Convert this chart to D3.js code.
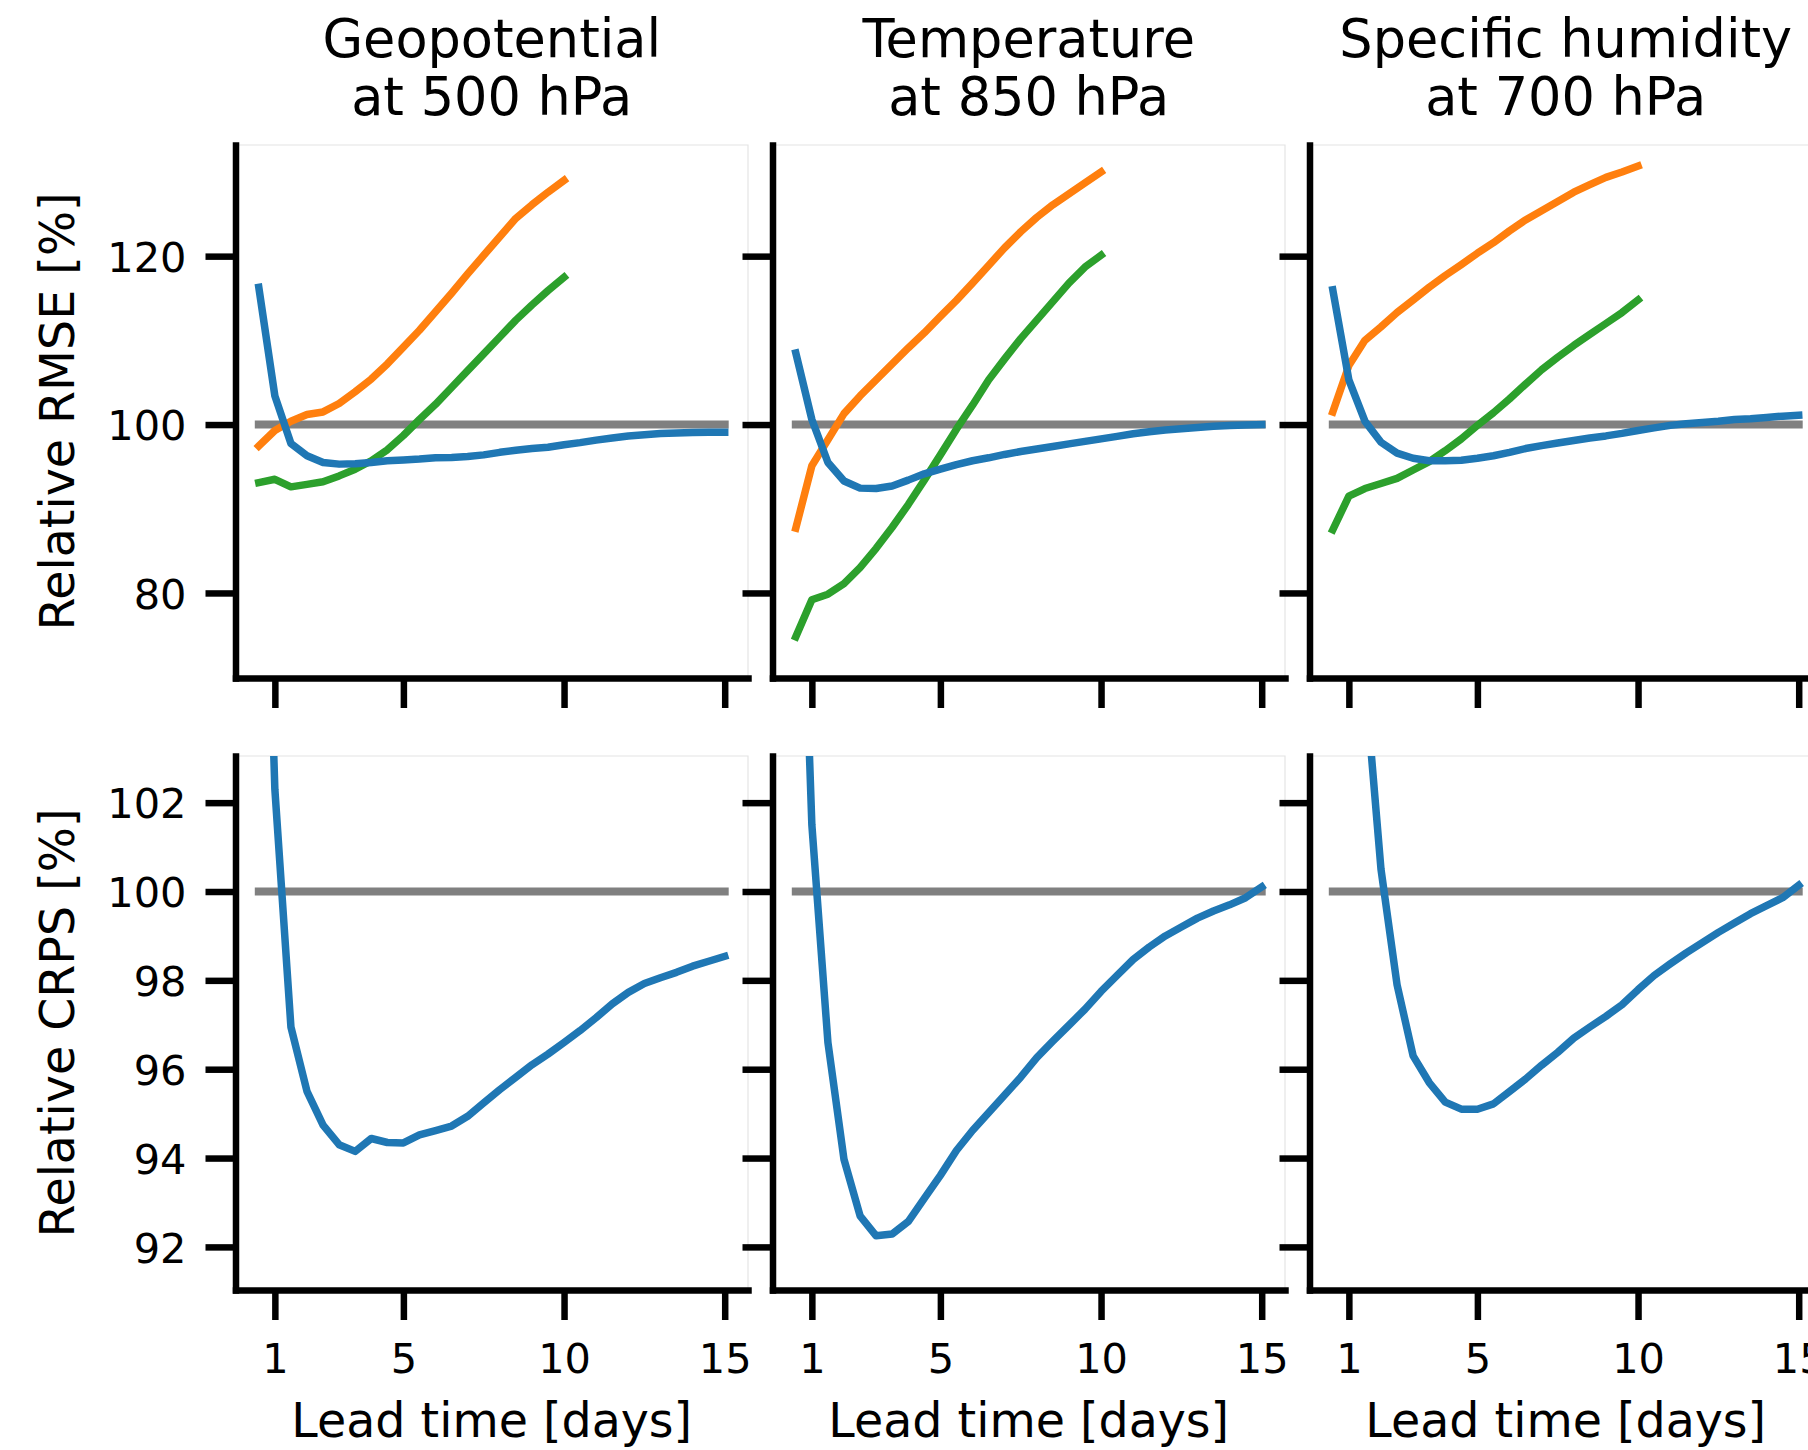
<!DOCTYPE html>
<html>
<head>
<meta charset="utf-8">
<script src="https://cdn.jsdelivr.net/npm/d3@7"></script>
<style>
  body { margin: 0; background: #fff; }
  text { font-family: "DejaVu Sans", sans-serif; fill: #000; }
</style>
</head>
<body>
<svg id="fig" width="1808" height="1450"></svg>
<script>
// lead times (days)
const leadDays = [0.5, 1, 1.5, 2, 2.5, 3, 3.5, 4, 4.5, 5, 5.5, 6, 6.5, 7, 7.5, 8, 8.5, 9, 9.5, 10,
                  10.5, 11, 11.5, 12, 12.5, 13, 13.5, 14, 14.5, 15];
const leadDaysShort = [0.5, 1, 1.5, 2, 2.5, 3, 3.5, 4, 4.5, 5, 5.5, 6, 6.5, 7, 7.5, 8, 8.5, 9, 9.5, 10];

const titles = [["Geopotential", "at 500 hPa"], ["Temperature", "at 850 hPa"], ["Specific humidity", "at 700 hPa"]];
const xTicks = [1, 5, 10, 15];
const rmseTicks = [80, 100, 120];
const crpsTicks = [92, 94, 96, 98, 100, 102];

// relative RMSE [%]
const rmseZ500Blue = [116.3, 103.4, 97.75, 96.3, 95.5, 95.3, 95.35, 95.5, 95.7, 95.8, 95.9, 96.05, 96.1, 96.2, 96.4,
  96.7, 96.95, 97.15, 97.3, 97.6, 97.85, 98.15, 98.4, 98.65, 98.8, 98.95, 99.0, 99.07, 99.1, 99.1];
const rmseZ500Orange = [97.45, 99.3, 100.4, 101.2, 101.5, 102.5, 103.9, 105.4, 107.2, 109.2, 111.2, 113.4, 115.6,
  117.9, 120.1, 122.3, 124.5, 126.1, 127.6, 129.0];
const rmseZ500Green = [93.1, 93.5, 92.6, 92.9, 93.2, 93.9, 94.7, 95.7, 97.0, 98.7, 100.6, 102.4, 104.4, 106.4,
  108.4, 110.4, 112.4, 114.2, 115.9, 117.5];

const rmseT850Blue = [108.5, 100.6, 95.5, 93.3, 92.45, 92.4, 92.7, 93.4, 94.15, 94.7, 95.25, 95.7, 96.05, 96.45, 96.8,
  97.1, 97.4, 97.7, 98.0, 98.3, 98.6, 98.9, 99.15, 99.35, 99.5, 99.65, 99.8, 99.9, 99.95, 100.0];
const rmseT850Orange = [87.7, 95.1, 98.2, 101.3, 103.4, 105.3, 107.2, 109.1, 110.9, 112.85, 114.75, 116.8, 118.9,
  121.0, 122.9, 124.6, 126.1, 127.4, 128.7, 130.0];
const rmseT850Green = [74.8, 79.2, 79.85, 81.1, 83.0, 85.3, 87.8, 90.5, 93.4, 96.4, 99.45, 102.3, 105.3, 107.8,
  110.2, 112.4, 114.6, 116.8, 118.7, 120.1];

const rmseQ700Blue = [116.0, 105.3, 100.4, 97.9, 96.6, 96.0, 95.7, 95.7, 95.75, 96.0, 96.3, 96.7, 97.15, 97.5, 97.8,
  98.1, 98.4, 98.65, 98.95, 99.3, 99.6, 99.9, 100.1, 100.25, 100.4, 100.6, 100.7, 100.85, 101.0, 101.1];
const rmseQ700Orange = [101.5, 107.0, 110.0, 111.6, 113.3, 114.8, 116.3, 117.7, 119.0, 120.35, 121.6, 123.0, 124.3,
  125.4, 126.5, 127.6, 128.5, 129.35, 130.0, 130.7];
const rmseQ700Green = [87.5, 91.5, 92.4, 93.0, 93.6, 94.6, 95.6, 96.9, 98.3, 99.9, 101.4, 103.05, 104.8, 106.5,
  108.0, 109.4, 110.7, 112.0, 113.3, 114.8];

// relative CRPS [%]
const crpsZ500Blue = [113.7, 102.3, 96.95, 95.5, 94.74, 94.3, 94.15, 94.44, 94.35, 94.34, 94.52, 94.62, 94.72, 94.94,
  95.24, 95.54, 95.82, 96.1, 96.34, 96.6, 96.87, 97.16, 97.47, 97.73, 97.93, 98.06, 98.18, 98.32, 98.43, 98.54];
const crpsT850Blue = [112.0, 101.5, 96.6, 93.97, 92.7, 92.25, 92.29, 92.57, 93.09, 93.61, 94.17, 94.62, 95.02, 95.42,
  95.82, 96.26, 96.63, 96.99, 97.35, 97.75, 98.11, 98.47, 98.75, 99.0, 99.2, 99.4, 99.56, 99.7, 99.86, 100.1];
const crpsQ700Blue = [125.0, 115.0, 104.8, 100.5, 97.9, 96.3, 95.7, 95.26, 95.1, 95.1, 95.22, 95.5, 95.78, 96.09,
  96.38, 96.7, 96.95, 97.19, 97.45, 97.79, 98.11, 98.37, 98.62, 98.85, 99.08, 99.29, 99.5, 99.68, 99.86, 100.14];

const colors = { blue: "#1f77b4", orange: "#ff7f0e", green: "#2ca02c", ref: "#808080" };

const svg = d3.select("#fig");

const panelX = [235.5, 772.5, 1309.5];
const panelW = 512.5;

const rows = [
  { top: 145, bottom: 678, domain: [69.9, 133.2], ticks: rmseTicks, label: "Relative RMSE [%]",
    series: [
      [rmseZ500Orange, rmseZ500Green, rmseZ500Blue],
      [rmseT850Orange, rmseT850Green, rmseT850Blue],
      [rmseQ700Orange, rmseQ700Green, rmseQ700Blue]
    ] },
  { top: 756, bottom: 1290, domain: [91.03, 103.05], ticks: crpsTicks, label: "Relative CRPS [%]",
    series: [
      [null, null, crpsZ500Blue],
      [null, null, crpsT850Blue],
      [null, null, crpsQ700Blue]
    ] }
];

const tickFont = 41.5;
const labelFont = 47.5;

rows.forEach(function (row, r) {
  const y = d3.scaleLinear().domain(row.domain).range([row.bottom, row.top]);

  panelX.forEach(function (x0, c) {
    const x = d3.scaleLinear().domain([-0.225, 15.725]).range([x0, x0 + panelW]);
    const g = svg.append("g");
    const clipId = "clip-" + r + "-" + c;

    g.append("clipPath").attr("id", clipId)
      .append("rect")
      .attr("x", x0).attr("y", row.top)
      .attr("width", panelW).attr("height", row.bottom - row.top);

    // faint frame on top / right
    g.append("path")
      .attr("d", "M" + x0 + "," + row.top + "H" + (x0 + panelW) + "V" + row.bottom)
      .attr("fill", "none").attr("stroke", "#e4e4e4").attr("stroke-width", 1.2);

    const plot = g.append("g").attr("clip-path", "url(#" + clipId + ")");

    // reference line at 100 %
    plot.append("path")
      .datum([leadDays[0], leadDays[leadDays.length - 1]])
      .attr("d", d3.line().x(function (d) { return x(d); }).y(function () { return y(100); }))
      .attr("fill", "none").attr("stroke", colors.ref).attr("stroke-width", 8)
      .attr("stroke-linecap", "square");

    const set = row.series[c];
    const line = d3.line()
      .x(function (d) { return x(d[0]); })
      .y(function (d) { return y(d[1]); });

    [[set[0], leadDaysShort, colors.orange], [set[1], leadDaysShort, colors.green], [set[2], leadDays, colors.blue]]
      .forEach(function (s) {
        if (!s[0]) return;
        plot.append("path")
          .datum(d3.zip(s[1], s[0]))
          .attr("d", line)
          .attr("fill", "none")
          .attr("stroke", s[2])
          .attr("stroke-width", 7.5)
          .attr("stroke-linecap", "square")
          .attr("stroke-linejoin", "round");
      });

    // axes
    const yAxis = g.append("g")
      .attr("transform", "translate(" + x0 + ",0)")
      .call(d3.axisLeft(y).tickValues(row.ticks).tickSize(30).tickSizeOuter(0).tickPadding(19));
    const xAxis = g.append("g")
      .attr("transform", "translate(0," + row.bottom + ")")
      .call(d3.axisBottom(x).tickValues(xTicks).tickSize(30).tickSizeOuter(0).tickPadding(24));

    [yAxis, xAxis].forEach(function (ax) {
      ax.attr("font-size", tickFont).attr("font-family", "DejaVu Sans, sans-serif");
      ax.select(".domain").attr("stroke", "#000").attr("stroke-width", 6.5).attr("stroke-linecap", "square");
      ax.selectAll(".tick line").attr("stroke", "#000").attr("stroke-width", 6.5);
      ax.selectAll(".tick text").attr("fill", "#000");
    });
    yAxis.selectAll(".tick text").attr("dy", "0.365em");

    if (c > 0) yAxis.selectAll(".tick text").remove();
    if (r === 0) xAxis.selectAll(".tick text").remove();

    // titles
    if (r === 0) {
      const t = g.append("text")
        .attr("text-anchor", "middle")
        .attr("font-size", 52.5);
      titles[c].forEach(function (s, i) {
        t.append("tspan").attr("x", x0 + panelW / 2).attr("y", i === 0 ? 57 : 115).text(s);
      });
    }

    // x label
    if (r === 1) {
      g.append("text")
        .attr("x", x0 + panelW / 2).attr("y", 1437)
        .attr("text-anchor", "middle")
        .attr("font-size", labelFont)
        .text("Lead time [days]");
    }

    // y label
    if (c === 0) {
      g.append("text")
        .attr("transform", "translate(74," + (row.top + row.bottom) / 2 + ") rotate(-90)")
        .attr("text-anchor", "middle")
        .attr("font-size", labelFont)
        .text(row.label);
    }
  });
});
</script>
</body>
</html>
